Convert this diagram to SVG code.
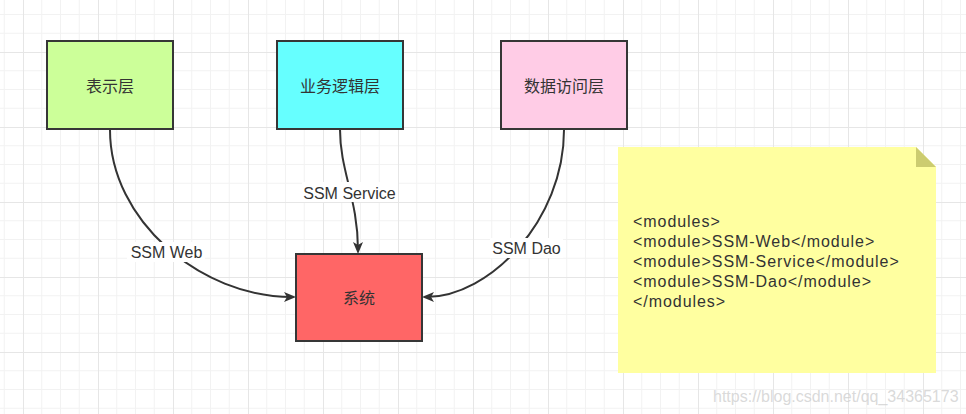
<svg xmlns="http://www.w3.org/2000/svg" width="966" height="414" viewBox="0 0 966 414">
<style>
.node{stroke:#363636;stroke-width:2}
.nt{font-family:"Liberation Sans","Noto Sans CJK SC",sans-serif;font-size:16px;fill:#333;text-anchor:middle;dominant-baseline:central}
.edge{fill:none;stroke:#333;stroke-width:2}
.lbg{fill:#fff}
.lt{font-family:"Liberation Sans",sans-serif;font-size:16px;fill:#333;text-anchor:middle}
.note{font-family:"Liberation Sans",sans-serif;font-size:16px;fill:#333;letter-spacing:0.95px}
</style>
<defs>
<pattern id="grid" width="75" height="75" patternUnits="userSpaceOnUse" x="23" y="52">
<path d="M18.75 0V75M37.5 0V75M56.25 0V75M0 18.75H75M0 37.5H75M0 56.25H75" stroke="#f2f2f2" stroke-width="1"/>
<path d="M0.5 0V75M0 0.5H75" stroke="#e6e6e6" stroke-width="1"/>
</pattern>
<marker id="arr" viewBox="0 0 12 10" refX="8" refY="5" markerWidth="12" markerHeight="10" markerUnits="userSpaceOnUse" orient="auto">
<path d="M0,0 L12,5 L0,10 L3,5 Z" fill="#333"/>
</marker>
</defs>
<rect width="966" height="414" fill="#fff"/>
<rect width="966" height="414" fill="url(#grid)"/>

<g id="edges">
<path class="edge" d="M110,130 C110,220 200,297 292,297" marker-end="url(#arr)"/>
<path class="edge" d="M340,130 C340,170 358,200 358,250" marker-end="url(#arr)"/>
<path class="edge" d="M564,130 C564,220 490,297 426,297" marker-end="url(#arr)"/>
<rect class="lbg" x="127" y="242" width="78" height="20"/>
<text class="lt" x="166.5" y="257.5">SSM Web</text>
<rect class="lbg" x="302" y="182" width="96" height="20"/>
<text class="lt" x="349.5" y="199">SSM Service</text>
<rect class="lbg" x="490" y="238" width="73" height="20"/>
<text class="lt" x="526.5" y="254">SSM Dao</text>
</g>

<g id="n1">
<rect class="node" x="47" y="41" width="126" height="88" fill="#ccff99"/>
<text class="nt" x="110" y="86">表示层</text>
</g>
<g id="n2">
<rect class="node" x="277" y="41" width="126" height="88" fill="#66ffff"/>
<text class="nt" x="340" y="86">业务逻辑层</text>
</g>
<g id="n3">
<rect class="node" x="501" y="41" width="126" height="88" fill="#ffcce6"/>
<text class="nt" x="564" y="86">数据访问层</text>
</g>
<g id="n4">
<rect class="node" x="296" y="254" width="126" height="87" fill="#ff6666"/>
<text class="nt" x="359" y="298">系统</text>
</g>

<g id="note">
<path d="M618,147 H916 L936,167 V373 H618 Z" fill="#ffffa0"/>
<path d="M916,147 L936,167 H916 Z" fill="#cccc70"/>
<text class="note" x="633" y="227">&lt;modules&gt;</text>
<text class="note" x="633" y="247">&lt;module&gt;SSM-Web&lt;/module&gt;</text>
<text class="note" x="633" y="267">&lt;module&gt;SSM-Service&lt;/module&gt;</text>
<text class="note" x="633" y="287">&lt;module&gt;SSM-Dao&lt;/module&gt;</text>
<text class="note" x="633" y="307">&lt;/modules&gt;</text>
</g>

<text x="713" y="402" font-family="'Liberation Sans',sans-serif" font-size="16" fill="#d0d0d0" fill-opacity="0.8">https://blog.csdn.net/qq_34365173</text>
</svg>
